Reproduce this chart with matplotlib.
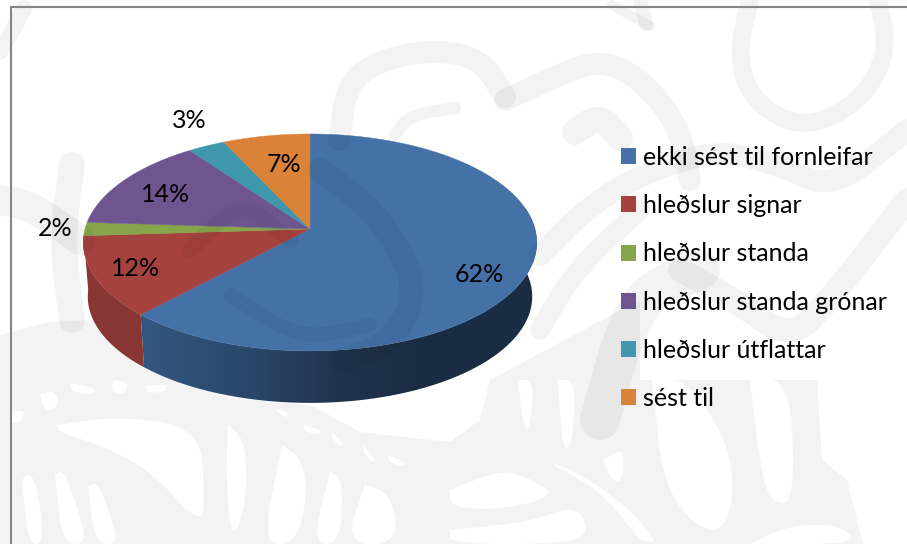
import matplotlib
matplotlib.use("Agg")
import matplotlib.pyplot as plt
from matplotlib.patches import Patch, Polygon
import numpy as np

plt.rcParams['font.family'] = ['Lato', 'DejaVu Sans']

categories = ["ekki sést til fornleifar", "hleðslur signar", "hleðslur standa",
              "hleðslur standa grónar", "hleðslur útflattar", "sést til"]
values = [62, 12, 2, 14, 3, 7]
colors = ["#4471a6", "#a5423f", "#87a54b", "#6f5590", "#3f97ae", "#da8238"]

# where the percent labels sit, in pixels
label_x = [479, 136, 55, 166, 189, 284]
label_y = [275, 268, 229, 195, 120, 165]

# pie shape in pixels
cx, cy = 310, 229
rx, ry = 225, 106.8
persp = 0.124
cx_b, cy_b = 310, 283.4
scale_b = 0.98

# pale background drawing: grey areas, white holes in them, then strokes
grey_areas = [
    [(0, 335), (50, 322), (95, 320), (145, 370), (230, 398), (310, 405), (360, 432),
     (450, 442), (480, 420), (490, 380), (640, 300), (640, 380), (817, 380), (822, 460),
     (847, 480), (863, 544), (0, 544)],
]
white_holes = [
    [(57, 425), (120, 416), (200, 428), (205, 500), (200, 525), (150, 470), (100, 445), (60, 433)],
    [(228, 425), (245, 440), (247, 500), (232, 544), (226, 480)],
    [(282, 445), (303, 460), (307, 500), (295, 544), (262, 544)],
    [(330, 472), (343, 480), (340, 544), (312, 544)],
    [(365, 484), (392, 495), (398, 544), (345, 544)],
    [(22, 480), (30, 472), (38, 490), (44, 544), (28, 544)],
    [(55, 475), (63, 470), (75, 500), (88, 544), (62, 544)],
    [(88, 486), (98, 482), (112, 520), (118, 544), (95, 544)],
    [(518, 380), (534, 380), (530, 428), (524, 430)],
    [(558, 380), (576, 380), (572, 448), (562, 448)],
    [(603, 460), (625, 447), (622, 484), (610, 478)],
    [(652, 380), (690, 380), (737, 460), (725, 544), (665, 500)],
    [(750, 380), (790, 380), (795, 500), (775, 505), (762, 480)],
    [(450, 490), (500, 470), (530, 478), (557, 496), (500, 510), (450, 507)],
    [(450, 530), (530, 522), (575, 505), (590, 530), (570, 544), (450, 544)],
    [(640, 540), (600, 490), (546, 462), (570, 468), (620, 500), (660, 544)],
    [(750, 544), (790, 525), (840, 525), (860, 544)],
    [(40, 395), (55, 390), (60, 405), (45, 413)],
    [(70, 383), (95, 388), (95, 395), (72, 392)],
    [(113, 380), (128, 382), (125, 395), (112, 392)],
    [(146, 386), (168, 384), (165, 392), (146, 393)],
    [(10, 412), (25, 410), (22, 422), (10, 424)],
    [(277, 408), (290, 414), (287, 418), (277, 412)],
    [(304, 425), (322, 430), (318, 435), (304, 431)],
    [(332, 432), (345, 444), (340, 447), (332, 438)],
    [(364, 446), (376, 460), (372, 463), (362, 450)],
    [(388, 455), (406, 462), (402, 467), (388, 461)],
]
# (x, y, width) for bands that also show through the pie
strokes = [
    ([0, 14, 24], [52, 28, 8], 16),
    ([339, 348, 389, 440, 482, 505], [140, 80, 57, 50, 60, 97], 22),
    ([505, 548, 595, 633, 668, 684, 690], [100, 80, 60, 73, 110, 145, 180], 22),
    ([575, 600, 620], [132, 115, 138], 26),
    ([395, 410, 455], [135, 115, 108], 12),
    ([750, 738, 748, 790, 830, 870, 888, 878], [0, 50, 95, 125, 120, 90, 45, 0], 18),
    ([612, 650], [5, 26], 10),
    ([640, 646], [0, 24], 14),
    ([0, 30, 80], [200, 205, 240], 30),
    ([72, 62, 72], [165, 240, 320], 26),
    ([540, 590, 650, 720, 780, 833, 907], [255, 205, 170, 150, 165, 190, 130], 22),
    ([540, 575, 640], [330, 270, 210], 20),
    ([600, 625, 650, 700], [420, 330, 290, 270], 40),
    ([680, 735, 790, 830, 907], [270, 300, 340, 300, 200], 24),
    ([320, 380, 420, 390, 340], [170, 215, 290, 345, 360], 24),
    ([190, 240, 290], [250, 200, 240], 16),
    ([230, 300, 370], [295, 340, 325], 14),
]


def smooth(xs, ys, rounds=4):
    # corner cutting so the bands look hand drawn
    pts = np.column_stack([xs, ys]).astype(float)
    for _ in range(rounds):
        a = pts[:-1] * 0.75 + pts[1:] * 0.25
        b = pts[:-1] * 0.25 + pts[1:] * 0.75
        mid = np.empty((len(a) * 2, 2))
        mid[0::2] = a
        mid[1::2] = b
        pts = np.vstack([pts[0], mid, pts[-1]])
    return pts[:, 0], pts[:, 1]


def top_point(t):
    d = 1 + persp * np.sin(t)
    return cx + rx * np.cos(t) / d, cy - ry * np.sin(t) / d


def bottom_point(t):
    d = 1 + persp * np.sin(t)
    return cx_b + scale_b * rx * np.cos(t) / d, cy_b - scale_b * ry * np.sin(t) / d


def wall_color(slice_idx, x):
    if slice_idx == 0:
        r = np.interp(x, [145, 250, 340, 420], [0.20, 0.165, 0.125, 0.105])
        g = np.interp(x, [145, 250, 340, 420], [0.34, 0.275, 0.20, 0.175])
        b = np.interp(x, [145, 250, 340, 420], [0.50, 0.41, 0.30, 0.265])
        return np.column_stack([r, g, b])
    base = np.array(matplotlib.colors.to_rgb(colors[slice_idx])) * 0.82
    return np.tile(base, (len(x), 1))


fig = plt.figure(figsize=(9.07, 5.44), dpi=100)
ax = fig.add_axes([0, 0, 1, 1])

# background areas
for area in grey_areas:
    ax.add_patch(Polygon(area, closed=True, facecolor="#f3f3f3", edgecolor="none", zorder=0))
for hole in white_holes:
    hx, hy = zip(*(hole + hole[:1]))
    hx, hy = smooth(hx, hy, 3)
    ax.fill(hx, hy, color="white", lw=0, zorder=0.1)

# start at 12 o'clock, go clockwise
edges = np.pi / 2 - 2 * np.pi * np.cumsum([0] + values) / sum(values)

# side wall first, a horizontal gradient clipped to each slice
for i in range(len(values)):
    ang = np.linspace(edges[i], edges[i + 1], 200)
    if np.sin(ang).min() > -0.07:
        continue
    ang = ang[np.sin(ang) < 0.2]
    tx, ty = top_point(ang)
    bx, by = bottom_point(ang)
    xs = np.r_[tx, bx[::-1]]
    ys = np.r_[ty, by[::-1]]
    grad_x = np.linspace(xs.min(), xs.max(), 300)
    im = ax.imshow(wall_color(i, grad_x)[None, :, :], extent=(xs.min(), xs.max(), ys.max(), ys.min()),
                   aspect="auto", zorder=1, interpolation="bilinear")
    im.set_clip_path(Polygon(np.column_stack([xs, ys]), closed=True, transform=ax.transData))

# top face
for i in range(len(values)):
    ang = np.linspace(edges[i], edges[i + 1], 200)
    xs, ys = top_point(ang)
    ax.fill(np.r_[cx, xs], np.r_[cy, ys], color=colors[i], lw=0.3, zorder=2)

# bands sit over everything except the text
for wx, wy, w in strokes:
    sx, sy = smooth(wx, wy)
    ax.plot(sx, sy, color="black", alpha=0.048, lw=w * 0.72,
            solid_capstyle="round", solid_joinstyle="round", zorder=5)

ax.set_xlim(0, 907)
ax.set_ylim(544, 0)
ax.axis("off")

# frame, only top and left are there
ax.plot([11, 11, 907], [544, 6.5, 6.5], color="#868686", lw=1.5, zorder=6, solid_joinstyle="miter")

for v, x, y in zip(values, label_x, label_y):
    ax.text(x, y, f"{v}%", ha="center", va="center", fontsize=18, color="black", zorder=7)

handles = [Patch(facecolor=c, edgecolor="none", label=n) for c, n in zip(colors, categories)]
leg = ax.legend(handles=handles, loc="upper left", bbox_to_anchor=(621 / 907, 1 - 146 / 544),
                frameon=False, fontsize=18, borderpad=0, borderaxespad=0,
                handlelength=0.6, handleheight=0.6, handletextpad=0.28, labelspacing=1.01)
leg.set_zorder(7)

fig.savefig("out.png", dpi=100)
